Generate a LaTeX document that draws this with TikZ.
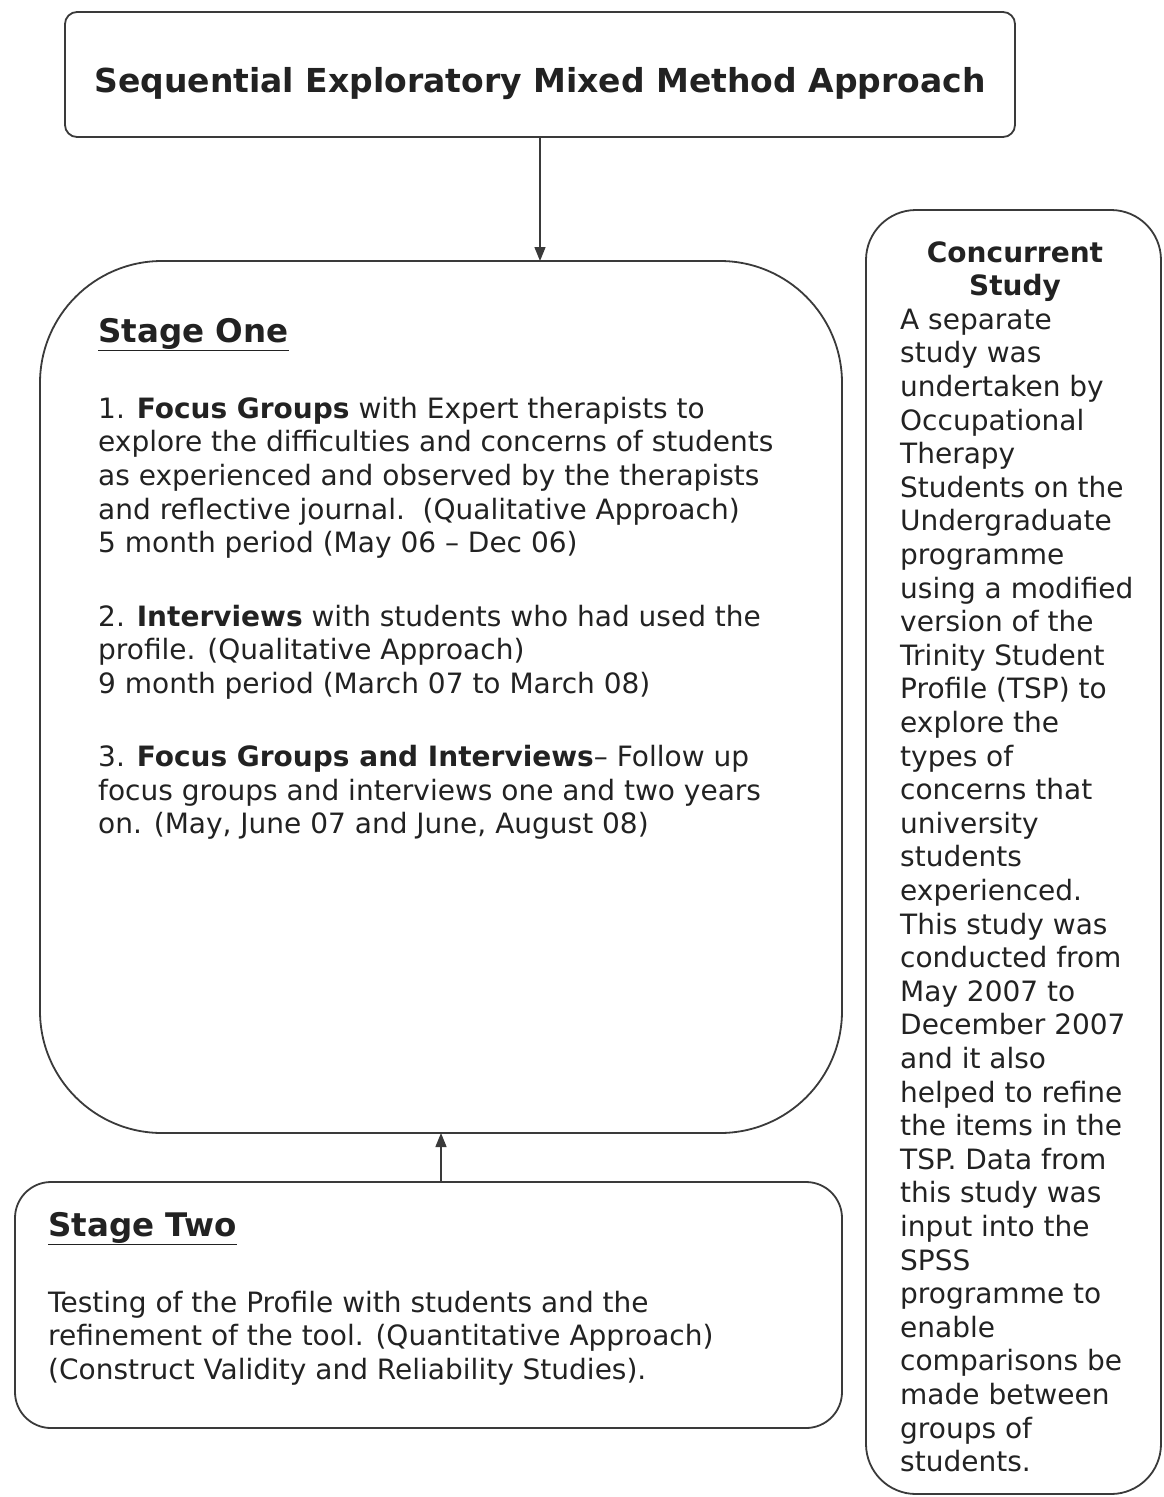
\documentclass[tikz,border=0pt]{standalone}
\usepackage{fontspec}
\setmainfont{DejaVu Sans}
\usetikzlibrary{arrows.meta}
\definecolor{ink}{HTML}{222222}
\definecolor{edge}{HTML}{3A3A3A}
\newcommand\firstline{\rule{0pt}{24pt}}
\tikzset{
  box/.style={draw=edge, line width=1.8pt, anchor=north west, inner sep=0pt, outer sep=0pt},
  txt/.style={anchor=north west, inner sep=0pt, align=left, text=ink, font=\fontsize{28}{33.6}\selectfont},
  headtxt/.style={anchor=base west, inner sep=0pt, text=ink, font=\fontsize{32.5}{36}\selectfont\bfseries},
  conn/.style={draw=edge, line width=1.4pt, -{Triangle[length=14pt,width=11pt]}}
}
\begin{document}
\begin{tikzpicture}[x=1pt,y=-1pt]
\useasboundingbox[fill=white] (0,0) rectangle (1163,1497);
% boxes
\node[box, rounded corners=12pt, minimum width=950pt, minimum height=125pt] (title) at (65,12) {};
\node[box, rounded corners=122pt, minimum width=802pt, minimum height=872pt] (stageone) at (40,261) {};
\node[box, rounded corners=36pt, minimum width=827pt, minimum height=246pt] (stagetwo) at (15,1182) {};
\node[box, rounded corners=50pt, minimum width=295pt, minimum height=1284pt] (concurrent) at (866,210) {};
% texts
\node[anchor=base, inner sep=0pt, text=ink, font=\fontsize{33}{36}\selectfont\bfseries] (titletext) at (540,92) {Sequential Exploratory Mixed Method Approach};
\node[headtxt] (onehead) at (98,342) {\underline{Stage One}};
\node[txt] (onebody) at (98,394) {\firstline 1. \textbf{Focus Groups} with Expert therapists to\\
explore the difficulties and concerns of students\\
as experienced and observed by the therapists\\
and reflective journal.\ \ (Qualitative Approach)\\
5 month period (May 06 – Dec 06)\\[40pt]
2. \textbf{Interviews} with students who had used the\\
profile. (Qualitative Approach)\\
9 month period (March 07 to March 08)\\[39.4pt]
3. \textbf{Focus Groups and Interviews}– Follow up\\
focus groups and interviews one and two years\\
on. (May, June 07 and June, August 08)};
\node[headtxt] (twohead) at (48,1236) {\underline{Stage Two}};
\node[txt] (twobody) at (48,1288) {\firstline Testing of the Profile with students and the\\
refinement of the tool. (Quantitative Approach)\\
(Construct Validity and Reliability Studies).};
\node[txt, anchor=north, align=center, font=\fontsize{28}{33.6}\selectfont\bfseries] (conhead) at (1015,238) {\firstline Concurrent\\Study};
\node[txt] (conbody) at (900,305) {\firstline A separate\\study was\\undertaken by\\Occupational\\Therapy\\Students on the\\Undergraduate\\programme\\using a modified\\version of the\\Trinity Student\\Profile (TSP) to\\explore the\\types of\\concerns that\\university\\students\\experienced.\\This study was\\conducted from\\May 2007 to\\December 2007\\and it also\\helped to refine\\the items in the\\TSP. Data from\\this study was\\input into the\\SPSS\\programme to\\enable\\comparisons be\\made between\\groups of\\students.};
% connectors
\draw[conn] (title.south) -- (title.south |- stageone.north);
\draw[conn] (stagetwo.north -| stageone.south) -- (stageone.south);
\end{tikzpicture}
\end{document}
